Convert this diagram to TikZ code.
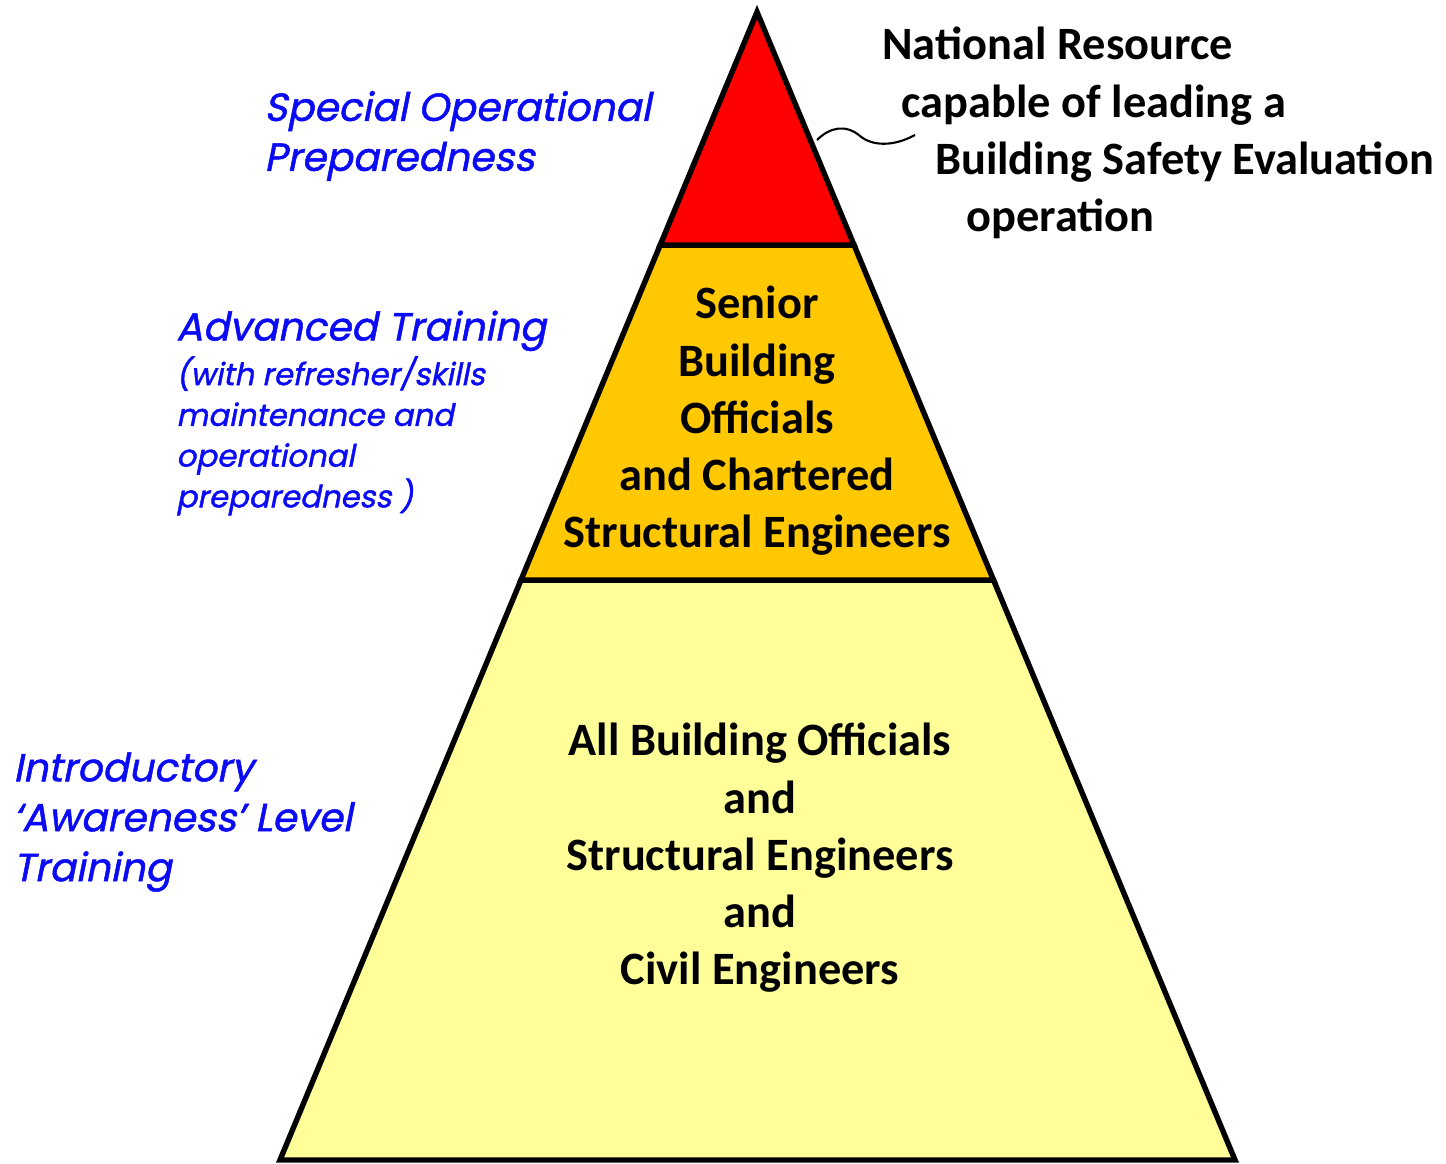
\documentclass[tikz,border=0pt]{standalone}
\usepackage{fontspec}
\setmainfont{Carlito}
\newfontfamily\gothic{Poppins}[AutoFakeSlant=0.2, FakeBold=1.3]
\usetikzlibrary{calc}
\definecolor{tierred}{HTML}{FF0000}
\definecolor{tierorange}{HTML}{FFC800}
\definecolor{tieryellow}{HTML}{FFFF99}
\definecolor{labelblue}{HTML}{0A0AF5}
\newcommand{\levelsmall}{\fontsize{17.5}{23.2}\selectfont}
\tikzset{
  tier/.style = {draw=black, line width=3.1pt},
  tiertext/.style = {align=center, inner sep=0pt, font=\bfseries\fontsize{26.4}{32.6}\selectfont},
  levelbig/.style = {align=left, inner sep=0pt, text=labelblue, font=\gothic\itshape\fontsize{22.3}{28.4}\selectfont},
  note/.style = {align=left, inner sep=0pt, font=\bfseries\fontsize{26.4}{32.6}\selectfont},
  pointer/.style = {line width=1.2pt},
}

\begin{document}
\begin{tikzpicture}[x=0.02cm, y=-0.02cm]
  \useasboundingbox (0,0) rectangle (1446,1163);

  % Pyramid corners and tier boundaries
  \coordinate (apex) at (757,12);
  \coordinate (bl) at (280,1160);
  \coordinate (br) at (1235,1160);
  \coordinate (rl) at ($(apex)!0.203!(bl)$);
  \coordinate (rr) at ($(apex)!0.203!(br)$);
  \coordinate (ol) at ($(apex)!0.4948!(bl)$);
  \coordinate (or) at ($(apex)!0.4948!(br)$);

  \filldraw[tier, fill=tieryellow] (ol) -- (or) -- (br) -- (bl) -- cycle;
  \filldraw[tier, fill=tierorange] (rl) -- (rr) -- (or) -- (ol) -- cycle;
  \filldraw[tier, fill=tierred] (apex) -- (rr) -- (rl) -- cycle;

  % Text inside the tiers
  \node[tiertext] (senior) at (757,421)
    {Senior\\Building\\Officials\\and Chartered\\Structural Engineers};
  \node[tiertext] (all) at (760,858)
    {All Building Officials\\and\\Structural Engineers\\and\\Civil Engineers};

  % Training levels on the left
  \node[levelbig, anchor=west] (special) at (264,136)
    {Special Operational\\Preparedness};
  \node[levelbig, anchor=west] (advanced) at (176,413)
    {Advanced Training\\[-3pt]{\levelsmall (with refresher/skills}\\[-5.2pt]{\levelsmall maintenance and}\\[-5.2pt]
     {\levelsmall operational}\\[-5.2pt]{\levelsmall preparedness )}};
  \node[levelbig, anchor=west] (intro) at (13,822)
    {Introductory\\‘Awareness’ Level\\Training};

  % Note on the top tier
  \node[note, anchor=west] (national) at (882,133)
    {National Resource\\\hspace*{11pt}capable of leading a\\
     \hspace*{30pt}Building Safety Evaluation\\\hspace*{48pt}operation};
  \coordinate (tip) at (817,140);
  \coordinate (tail) at (915,135);
  \draw[pointer] (tip) .. controls (830,127) and (846,124) .. (860,136)
    .. controls (872,146) and (893,147) .. (tail);
\end{tikzpicture}
\end{document}
